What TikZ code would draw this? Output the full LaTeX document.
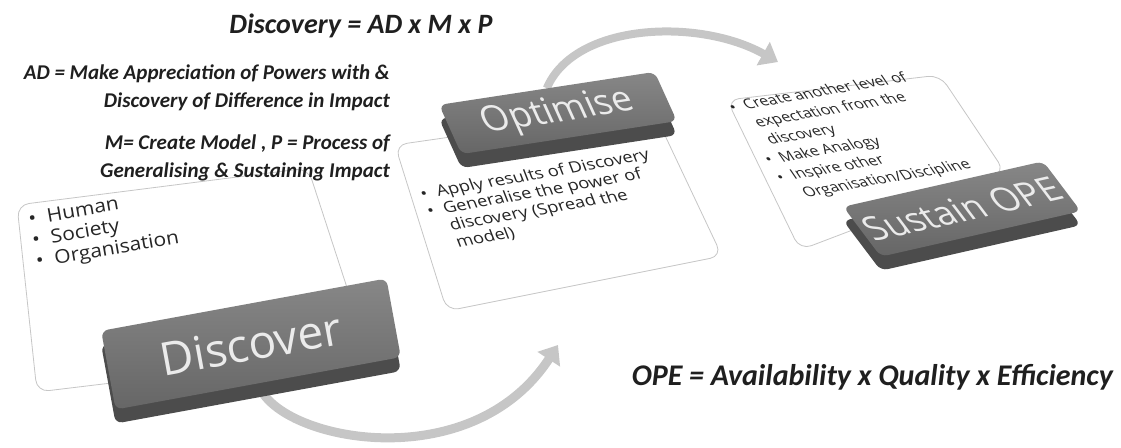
\documentclass[tikz,border=0pt]{standalone}
\usepackage{fontspec}
\setmainfont{Open Sans}
\newfontfamily\calibri{Carlito}
\usetikzlibrary{arrows.meta, shadows, backgrounds}
\tikzset{
    panel/.style={draw=gray!45, fill=white, line width=0.8pt, rounded corners=12pt},
    button/.style={rectangle, rounded corners=7pt, top color=black!47, bottom color=black!60, text=white!92!black, inner sep=0pt, drop shadow={shadow xshift=0pt, shadow yshift=-14pt, opacity=1, fill=black!70}},
    flow-arrow/.style={-{Triangle[width=26pt,length=17pt]}, line width=9pt, gray!45},
    formula/.style={font=\calibri\bfseries\itshape, text=black!88, inner sep=0pt},
    bullets/.style={align=left, inner sep=0pt, text=black!85}
}
\newcommand{\itm}[1]{\makebox[0.9em][l]{\textbullet}#1}
\newcommand{\cnt}[1]{\hspace*{0.9em}#1}

\begin{document}
\begin{tikzpicture}[x=1pt, y=-1pt]
		\useasboundingbox (0,0) rectangle (1121,447);

		% Panel corners
		\coordinate (discover-nw) at (17,205);
		\coordinate (discover-ne) at (308,168);
		\coordinate (discover-se) at (368,352);
		\coordinate (discover-sw) at (37,392);
		\coordinate (optimise-nw) at (395,145);
		\coordinate (optimise-ne) at (652,108);
		\coordinate (optimise-se) at (722,256);
		\coordinate (optimise-sw) at (447,311);
		\coordinate (sustain-nw) at (727,100);
		\coordinate (sustain-ne) at (940,75);
		\coordinate (sustain-se) at (1005,172);
		\coordinate (sustain-sw) at (800,250);

		% Panels
		\draw[panel] (discover-nw) -- (discover-ne) -- (discover-se) -- (discover-sw) -- cycle;
		\draw[panel] (optimise-nw) -- (optimise-ne) -- (optimise-se) -- (optimise-sw) -- cycle;
		\draw[panel] (sustain-nw) -- (sustain-ne) -- (sustain-se) -- (sustain-sw) -- cycle;

		% Formulas
		\node[formula, font=\calibri\bfseries\itshape\fontsize{28}{32}\selectfont, anchor=base] (discovery-eq) at (361,33) {Discovery = AD x M x P};
		\node[formula, font=\calibri\bfseries\itshape\fontsize{21}{28}\selectfont, align=right, anchor=north east] (ad-def) at (390,65) {AD = Make Appreciation of Powers with \&\\Discovery of Difference in Impact};
		\node[formula, font=\calibri\bfseries\itshape\fontsize{21}{28}\selectfont, align=right, anchor=north east] (mp-def) at (390,135) {M= Create Model , P = Process of\\Generalising \& Sustaining Impact};
		\node[formula, font=\calibri\bfseries\itshape\fontsize{30}{34}\selectfont, anchor=base east] (ope-eq) at (1113,385) {OPE = Availability x Quality x Efficiency};

		% Bullet lists
		\node[bullets, rotate=10, yscale=0.9, anchor=north west, font=\fontsize{21}{24}\selectfont] (discover-list) at (27,212) {\itm{Human}\\\itm{Society}\\\itm{Organisation}};
		\node[bullets, rotate=10, xslant=-0.2, yscale=0.87, anchor=north west, font=\fontsize{18}{20.5}\selectfont] (optimise-list) at (418,188) {\itm{Apply results of Discovery}\\\itm{Generalise the power of}\\\cnt{discovery (Spread the}\\\cnt{model)}};
		\node[bullets, rotate=10, xslant=-0.45, yscale=0.92, anchor=north west, font=\fontsize{15.5}{21}\selectfont] (sustain-list) at (726,102) {\itm{Create another level of}\\\cnt{expectation from the}\\\cnt{discovery}\\\itm{Make Analogy}\\\itm{Inspire other}\\\cnt{Organisation/Discipline}};

		% Buttons
		\node[button, rotate=10.4, minimum width=290pt, minimum height=80pt, font=\fontsize{46}{50}\selectfont] (discover) at (251,344) {Discover};
		\node[button, rotate=8.7, xslant=-0.28, minimum width=218pt, minimum height=52pt, font=\fontsize{36}{40}\selectfont] (optimise) at (558,113) {Optimise};
		\node[button, rotate=12.8, xslant=-0.45, minimum width=205pt, minimum height=57pt, font=\fontsize{35}{38}\selectfont] (sustain) at (962,209) {Sustain OPE};

		% Arrow ends
		\coordinate (optimise-in) at (558,345);
		\coordinate (sustain-in) at (778,62);

		% Cycle arrows behind the buttons
		\begin{scope}[on background layer]
			\draw[flow-arrow] (discover.south) .. controls (275,440) and (470,480) .. (optimise-in);
			\draw[flow-arrow, line width=8pt] (optimise.north) .. controls (575,22) and (700,18) .. (sustain-in);
		\end{scope}

	\end{tikzpicture}
\end{document}
